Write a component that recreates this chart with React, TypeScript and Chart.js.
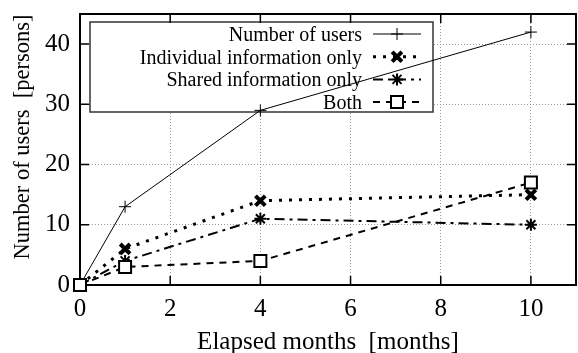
import React, { useEffect, useRef } from 'react';
import { Chart, registerables } from 'chart.js';

Chart.register(...registerables);

const months = [0, 1, 4, 10];
const totalUsers = [0, 13, 29, 42];
const individualOnly = [0, 6, 14, 15];
const sharedOnly = [0, 4, 11, 10];
const bothInfo = [0, 3, 4, 17];
const seriesLabels = ['Number of users', 'Individual information only', 'Shared information only', 'Both'];
const xTickValues = [0, 2, 4, 6, 8, 10];
const yTickValues = [0, 10, 20, 30, 40];
const xTitle = 'Elapsed months  [months]';
const yTitle = 'Number of users  [persons]';

const FONT = "'Liberation Serif', 'Times New Roman', serif";

const seriesStyles = [
  { width: 1, dash: [] as number[], marker: 'cross', mw: 1, r: 6 },
  { width: 3, dash: [3, 7], marker: 'crossRot', mw: 4, r: 6.5 },
  { width: 2, dash: [10, 5, 3, 5], marker: 'star', mw: 2, r: 6 },
  { width: 2, dash: [7, 6], marker: 'rect', mw: 2, r: 6 },
];

function drawMarker(ctx: CanvasRenderingContext2D, kind: string, x: number, y: number, r: number, w: number) {
  ctx.save();
  ctx.setLineDash([]);
  ctx.lineWidth = w;
  ctx.strokeStyle = '#000';
  ctx.beginPath();
  if (kind === 'cross') {
    ctx.moveTo(x - r, y); ctx.lineTo(x + r, y);
    ctx.moveTo(x, y - r); ctx.lineTo(x, y + r);
  } else if (kind === 'crossRot') {
    const d = r * 0.75;
    ctx.moveTo(x - d, y - d); ctx.lineTo(x + d, y + d);
    ctx.moveTo(x + d, y - d); ctx.lineTo(x - d, y + d);
  } else if (kind === 'star') {
    const d = r * 0.75;
    ctx.moveTo(x - r, y); ctx.lineTo(x + r, y);
    ctx.moveTo(x, y - r); ctx.lineTo(x, y + r);
    ctx.moveTo(x - d, y - d); ctx.lineTo(x + d, y + d);
    ctx.moveTo(x + d, y - d); ctx.lineTo(x - d, y + d);
  } else if (kind === 'rect') {
    ctx.fillStyle = '#fff';
    ctx.rect(x - r, y - r, 2 * r, 2 * r);
    ctx.fill();
  }
  ctx.stroke();
  ctx.restore();
}

const legendPlugin = {
  id: 'gnuLegend',
  beforeDatasetsDraw(chart: any) {
    const ctx = chart.ctx as CanvasRenderingContext2D;
    const bx = 90, by = 22, bw = 343, bh = 90;
    ctx.save();
    ctx.fillStyle = '#fff';
    ctx.fillRect(bx, by, bw, bh);
    ctx.lineWidth = 1.5;
    ctx.strokeStyle = '#333';
    ctx.strokeRect(bx, by, bw, bh);
    ctx.font = `20px ${FONT}`;
    ctx.fillStyle = '#000';
    ctx.textAlign = 'right';
    ctx.textBaseline = 'alphabetic';
    seriesLabels.forEach((lab, i) => {
      const y = 34 + i * 22.7;
      ctx.fillText(lab, 362, y + 7);
      const st = seriesStyles[i];
      ctx.save();
      ctx.lineWidth = st.width;
      ctx.setLineDash(st.dash);
      ctx.strokeStyle = '#000';
      ctx.beginPath();
      ctx.moveTo(373, y);
      ctx.lineTo(421, y);
      ctx.stroke();
      ctx.restore();
      drawMarker(ctx, st.marker, 397, y, st.r, st.mw);
    });
    ctx.restore();
  },
};

const framePlugin = {
  id: 'gnuFrame',
  afterDatasetsDraw(chart: any) {
    const ctx = chart.ctx as CanvasRenderingContext2D;
    const { left, right, top, bottom } = chart.chartArea;
    const xs = chart.scales.x;
    const ys = chart.scales.y;
    ctx.save();
    ctx.strokeStyle = '#000';
    ctx.lineWidth = 1.5;
    ctx.beginPath();
    const tl = 9;
    xTickValues.forEach((v) => {
      const px = xs.getPixelForValue(v);
      ctx.moveTo(px, bottom); ctx.lineTo(px, bottom - tl);
      ctx.moveTo(px, top); ctx.lineTo(px, top + tl);
    });
    yTickValues.forEach((v) => {
      const py = ys.getPixelForValue(v);
      ctx.moveTo(left, py); ctx.lineTo(left + tl, py);
      ctx.moveTo(right, py); ctx.lineTo(right - tl, py);
    });
    ctx.stroke();
    ctx.lineWidth = 2;
    ctx.strokeRect(left, top, right - left, bottom - top);
    ctx.restore();
    chart.data.datasets.forEach((ds: any, i: number) => {
      const st = seriesStyles[i];
      ds.data.forEach((p: any) => {
        drawMarker(ctx, st.marker, xs.getPixelForValue(p.x), ys.getPixelForValue(p.y), st.r, st.mw);
      });
    });
    ctx.save();
    ctx.fillStyle = '#000';
    ctx.textAlign = 'center';
    ctx.textBaseline = 'alphabetic';
    ctx.font = `25px ${FONT}`;
    ctx.fillText(xTitle, 328, 349);
    ctx.translate(29, 137);
    ctx.rotate(-Math.PI / 2);
    ctx.font = `22.5px ${FONT}`;
    ctx.fillText(yTitle, 0, 0);
    ctx.restore();
  },
};

export default function App() {
  const ref = useRef<HTMLCanvasElement>(null);
  useEffect(() => {
    const seriesValues = [totalUsers, individualOnly, sharedOnly, bothInfo];
    const chart = new Chart(ref.current!, {
      type: 'line',
      data: {
        datasets: seriesValues.map((vals, i) => ({
          label: seriesLabels[i],
          data: months.map((m, j) => ({ x: m, y: vals[j] })),
          borderColor: '#000',
          borderWidth: seriesStyles[i].width,
          borderDash: seriesStyles[i].dash,
          borderCapStyle: 'butt',
          pointRadius: 0,
          fill: false,
          tension: 0,
          clip: false as any,
        })),
      },
      options: {
        animation: false,
        responsive: false,
        layout: { padding: { top: 14, right: 2, left: 0, bottom: 0 } },
        plugins: { legend: { display: false }, tooltip: { enabled: false } },
        scales: {
          x: {
            type: 'linear',
            min: 0,
            max: 11,
            afterFit: (s: any) => { s.height = 68; s.paddingLeft = 0; s.paddingRight = 0; },
            ticks: { stepSize: 2, includeBounds: false, color: '#000', padding: 9, font: { family: FONT, size: 25 } },
            grid: { color: '#999', lineWidth: 1, drawTicks: false },
            border: { display: false, dash: [1, 2] },
            title: { display: false },
          },
          y: {
            type: 'linear',
            min: 0,
            max: 45,
            afterFit: (s: any) => { s.width = 80; s.paddingTop = 0; s.paddingBottom = 0; },
            ticks: { stepSize: 10, includeBounds: false, color: '#000', padding: 10, font: { family: FONT, size: 25 } },
            grid: { color: '#999', lineWidth: 1, drawTicks: false },
            border: { display: false, dash: [1, 2] },
            title: { display: false },
          },
        },
      } as any,
      plugins: [legendPlugin, framePlugin],
    });
    return () => chart.destroy();
  }, []);
  return (
    <div style={{ position: 'fixed', left: 0, top: 0, width: 578, height: 353, background: '#fff' }}>
      <canvas ref={ref} width={578} height={353} />
    </div>
  );
}
